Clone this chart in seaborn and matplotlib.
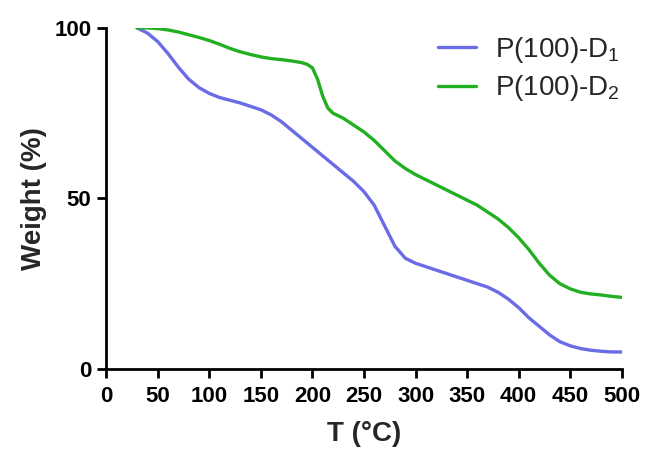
import matplotlib
matplotlib.use("Agg")
import matplotlib.pyplot as plt
import seaborn as sns
import pandas as pd

t1 = [30, 40, 50, 60, 70, 80, 90, 100, 110, 120, 130, 140, 150, 160, 170, 180, 190, 200,
      210, 220, 230, 240, 250, 260, 270, 280, 290, 300, 310, 320, 330, 340, 350, 360, 370,
      380, 390, 400, 410, 420, 430, 440, 450, 460, 470, 480, 490, 500]
w1 = [100, 98.5, 96, 92.5, 88.5, 85, 82.5, 80.8, 79.6, 78.8, 78, 77, 76, 74.5, 72.5, 70, 67.5, 65,
      62.5, 60, 57.5, 55, 52, 48, 42, 36, 32.5, 31, 30, 29, 28, 27, 26, 25, 24,
      22.5, 20.5, 18, 15, 12.5, 10, 8, 6.8, 6, 5.5, 5.2, 5, 5]
t2 = [30, 40, 50, 60, 70, 80, 90, 100, 110, 120, 130, 140, 150, 160, 170, 180, 190, 195, 200,
      205, 210, 215, 220, 230, 240, 250, 260, 270, 280, 290, 300, 310, 320, 330, 340, 350, 360,
      370, 380, 390, 400, 410, 420, 430, 440, 450, 460, 470, 480, 490, 500]
w2 = [100, 100, 99.8, 99.4, 98.8, 98, 97.2, 96.3, 95.2, 94, 93, 92.2, 91.5, 91, 90.7, 90.3, 89.8, 89.3, 88.3,
      85, 80, 76.5, 75, 73.5, 71.5, 69.5, 67, 64, 61, 58.8, 57, 55.5, 54, 52.5, 51, 49.5, 48,
      46, 44, 41.5, 38.5, 35, 31, 27.5, 25, 23.5, 22.5, 22, 21.7, 21.3, 21]
labels = ["P(100)-D$_1$", "P(100)-D$_2$"]
colors = ["#6b6be8", "#22b022"]
xticks = [0, 50, 100, 150, 200, 250, 300, 350, 400, 450, 500]
yticks = [0, 50, 100]

df = pd.concat([
    pd.DataFrame({"T": t1, "W": w1, "s": labels[0]}),
    pd.DataFrame({"T": t2, "W": w2, "s": labels[1]}),
])

sns.set_theme(style="ticks")
plt.rcParams["font.family"] = ["Liberation Sans", "DejaVu Sans"]
plt.rcParams["mathtext.fontset"] = "custom"
plt.rcParams["mathtext.rm"] = "Liberation Sans"

fig = plt.figure(figsize=(6.47, 4.5), dpi=100)
ax = fig.add_axes([0.164, 0.180, 0.797, 0.758])
sns.lineplot(data=df, x="T", y="W", hue="s", palette=colors, linewidth=2.4, ax=ax, sort=False)

ax.set_xlim(0, 500)
ax.set_ylim(0, 100)
ax.set_xticks(xticks)
ax.set_yticks(yticks)
ax.set_xlabel("T (°C)", fontsize=20, fontweight="bold", labelpad=10)
ax.set_ylabel("Weight (%)", fontsize=20, fontweight="bold", labelpad=5)
for lab in ax.get_xticklabels() + ax.get_yticklabels():
    lab.set_fontweight("bold")
    lab.set_fontsize(16)
ax.tick_params(axis="both", direction="out", length=6.5, width=2, colors="black")
ax.tick_params(axis="x", pad=6)
ax.tick_params(axis="y", pad=4)
for side in ["top", "right"]:
    ax.spines[side].set_visible(False)
for side in ["left", "bottom"]:
    ax.spines[side].set_linewidth(2)
    ax.spines[side].set_color("black")

leg = ax.legend(frameon=False, loc="upper left", bbox_to_anchor=(438 / 647, 1 - 35 / 450),
                bbox_transform=fig.transFigure, fontsize=20, borderpad=0, borderaxespad=0,
                handlelength=1.35, handletextpad=0.7, labelspacing=0.3)
for h in leg.get_lines():
    h.set_linewidth(2.4)

fig.savefig("out.png", dpi=100)
